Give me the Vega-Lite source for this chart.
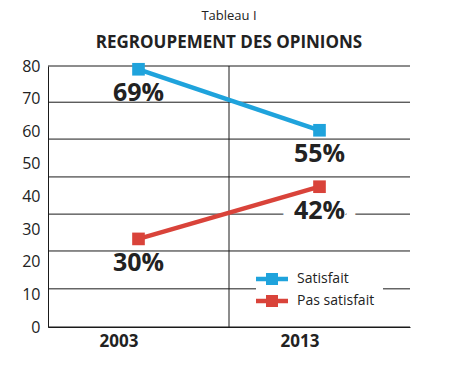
{
  "$schema": "https://vega.github.io/schema/vega-lite/v6.json",
  "autosize": "none",
  "width": 362,
  "height": 261,
  "padding": {"left": 48, "top": 66, "right": 44, "bottom": 41},
  "background": "white",
  "config": {
    "font": "Open Sans",
    "view": {"stroke": null},
    "axis": {"labelOverlap": false},
    "axisY": {"title": null, "tickCount": 9, "labelOverlap": false, "labelFlush": false, "labelBound": false, "grid": false, "ticks": false, "domainColor": "#1a1a1a", "labelFontSize": 16, "labelColor": "#222", "labelPadding": 8}
  },
  "title": {
    "text": "Tableau I",
    "subtitle": "REGROUPEMENT DES OPINIONS",
    "anchor": "middle",
    "frame": "group",
    "fontSize": 13,
    "fontWeight": "normal",
    "color": "#222",
    "subtitleFontSize": 17,
    "subtitleFontWeight": "bold",
    "subtitleColor": "#222",
    "subtitlePadding": 12,
    "offset": 7
  },
  "datasets": {
    "series": [
      {"annee": "2003", "serie": "Satisfait", "valeur": 79, "etiquette": "69%"},
      {"annee": "2013", "serie": "Satisfait", "valeur": 60.3, "etiquette": "55%"},
      {"annee": "2003", "serie": "Pas satisfait", "valeur": 27, "etiquette": "30%"},
      {"annee": "2013", "serie": "Pas satisfait", "valeur": 43, "etiquette": "42%"}
    ],
    "grille": [
      {"g": 80}, {"g": 68.9}, {"g": 57.6}, {"g": 46}, {"g": 34.6}, {"g": 23.3}, {"g": 11.7}, {"g": 0}
    ]
  },
  "layer": [
    {
      "data": {"name": "grille"},
      "mark": {"type": "rule", "color": "#1a1a1a", "strokeWidth": 1},
      "encoding": {
        "y": {
          "field": "g", "type": "quantitative",
          "scale": {"domain": [0, 80], "nice": false},
          "axis": {"values": [0, 10, 20, 30, 40, 50, 60, 70, 80], "labelOverlap": false, "tickCount": 9}
        }
      }
    },
    {
      "data": {"name": "series"},
      "transform": [{"filter": "datum.annee == '2013'"}, {"filter": "datum.serie == 'Satisfait'"}],
      "mark": {"type": "rule", "color": "#1a1a1a", "strokeWidth": 1},
      "encoding": {
        "x": {"field": "annee", "type": "nominal", "bandPosition": 0}
      }
    },
    {
      "data": {"name": "series"},
      "transform": [{"filter": "datum.etiquette == '42%'"}],
      "mark": {"type": "text", "fontSize": 25, "fontWeight": "bold", "dy": 24, "baseline": "middle", "fill": "white", "stroke": "white", "strokeWidth": 22, "strokeJoin": "round"},
      "encoding": {
        "x": {"field": "annee", "type": "nominal"},
        "y": {"field": "valeur", "type": "quantitative"},
        "text": {"field": "etiquette"}
      }
    },
    {
      "data": {"name": "series"},
      "mark": {"type": "line", "strokeWidth": 4.5},
      "encoding": {
        "x": {
          "field": "annee", "type": "nominal",
          "scale": {"type": "band", "paddingInner": 0, "paddingOuter": 0},
          "axis": {"title": null, "labelAngle": 0, "labelFontSize": 17, "labelFontWeight": "bold", "labelColor": "#222", "ticks": false, "domainColor": "#1a1a1a", "labelPadding": 14, "grid": false}
        },
        "y": {"field": "valeur", "type": "quantitative"},
        "color": {
          "field": "serie", "type": "nominal",
          "scale": {"domain": ["Satisfait", "Pas satisfait"], "range": ["#1fa3dc", "#d9433a"]},
          "legend": {
            "title": null,
            "orient": "none",
            "legendX": 208,
            "legendY": 197,
            "fillColor": "white",
            "padding": 8,
            "symbolType": "M-2,-0.28H2V0.28H-2Z M-0.75,-0.75H0.75V0.75H-0.75Z",
            "symbolSize": 256,
            "symbolStrokeWidth": 0,
            "symbolOpacity": 1,
            "labelFontSize": 14,
            "labelColor": "#222",
            "labelOffset": 17,
            "rowPadding": 7
          }
        }
      }
    },
    {
      "data": {"name": "series"},
      "mark": {"type": "point", "shape": "square", "filled": true, "size": 160, "opacity": 1},
      "encoding": {
        "x": {"field": "annee", "type": "nominal"},
        "y": {"field": "valeur", "type": "quantitative"},
        "color": {
          "field": "serie", "type": "nominal",
          "scale": {"domain": ["Satisfait", "Pas satisfait"], "range": ["#1fa3dc", "#d9433a"]},
          "legend": {
            "title": null,
            "orient": "none",
            "legendX": 208,
            "legendY": 197,
            "fillColor": "white",
            "padding": 8,
            "symbolType": "M-2,-0.28H2V0.28H-2Z M-0.75,-0.75H0.75V0.75H-0.75Z",
            "symbolSize": 256,
            "symbolStrokeWidth": 0,
            "symbolOpacity": 1,
            "labelFontSize": 14,
            "labelColor": "#222",
            "labelOffset": 17,
            "rowPadding": 7
          }
        }
      }
    },
    {
      "data": {"name": "series"},
      "mark": {"type": "text", "fontSize": 25, "fontWeight": "bold", "dy": 24, "baseline": "middle", "fill": "#222"},
      "encoding": {
        "x": {"field": "annee", "type": "nominal"},
        "y": {"field": "valeur", "type": "quantitative"},
        "text": {"field": "etiquette"}
      }
    }
  ]
}
